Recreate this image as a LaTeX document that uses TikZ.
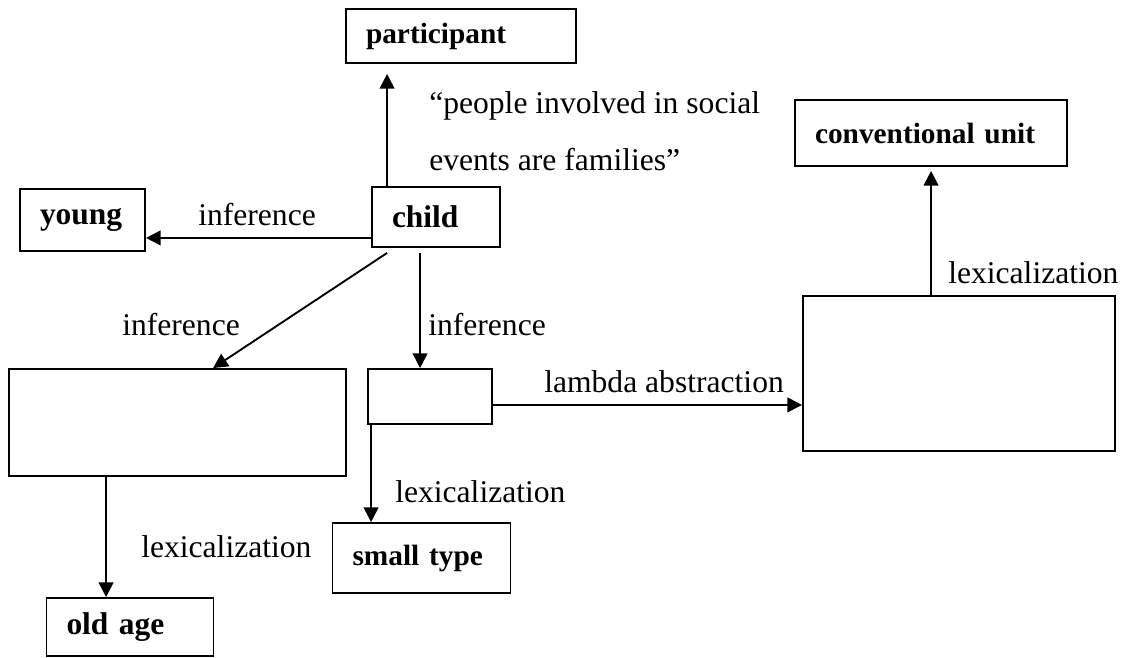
\documentclass[tikz,border=0pt]{standalone}
\usepackage{fontspec}
\setmainfont{Liberation Serif}
\usetikzlibrary{arrows.meta,calc}
\tikzset{
  px/.style={x=0.75pt,y=-0.75pt},
  lbl/.style={font=\fontsize{23.7pt}{28pt}\selectfont, inner sep=0pt, anchor=west},
  tbox/.style={draw, line width=1.4pt, font=\fontsize{22pt}{26pt}\selectfont\bfseries,
    inner xsep=15pt, inner ysep=0pt, align=left},
  bigb/.style={font=\fontsize{23.6pt}{28pt}\selectfont\bfseries},
  ebox/.style={draw, line width=1.4pt, inner sep=0pt},
  conn/.style={line width=1.4pt},
  arr/.style={conn, -{Triangle[length=11pt,width=11pt]}}
}
\begin{document}
\begin{tikzpicture}[px]
\useasboundingbox (0,0) rectangle (1124,657);
% boxes with text
\node[tbox, text width=142.5pt, minimum height=40.5pt] (participant) at (461,36) {participant};
\node[tbox, bigb, text width=63.75pt, minimum height=46.5pt] (young) at (82.5,220) {young};
\node[tbox, bigb, text width=66pt, minimum height=45pt] (child) at (436,217) {child};
\node[tbox, text width=174pt, minimum height=49.5pt] (conv) at (931,133) {conventional unit};
\node[tbox, text width=103.5pt, minimum height=52.5pt] (smalltype) at (421.5,558) {small type};
\node[tbox, bigb, text width=95.25pt, minimum height=43.5pt] (oldage) at (130,627) {old age};
% empty boxes
\node[ebox, minimum width=252.75pt, minimum height=80.25pt] (L) at (177.5,422.5) {};
\node[ebox, minimum width=93pt, minimum height=41.25pt] (S) at (430,396.5) {};
\node[ebox, minimum width=234pt, minimum height=116.25pt] (R) at (959,373.5) {};
% quote
\node[font=\fontsize{23.7pt}{42.75pt}\selectfont, inner sep=0pt, anchor=north west, align=left] (quote) at (429,91)
  {“people involved in social\\events are families”};
% labels
\node[lbl] (l1) at (198,215) {inference};
\node[lbl] (l2) at (122,325) {inference};
\node[lbl] (l3) at (428,325) {inference};
\node[lbl] (l4) at (544,382) {lambda abstraction};
\node[lbl] (l5) at (948,273) {lexicalization};
\node[lbl] (l6) at (395,492) {lexicalization};
\node[lbl] (l7) at (141,547) {lexicalization};
% connectors
\coordinate (c1) at ($(child.north west)+(16,0)$);
\draw[arr, shorten >=7.5pt] (c1) -- (c1 |- participant.south);
\coordinate (c2) at ($(child.south west)+(0,-10)$);
\draw[arr] (c2) -- (c2 -| young.east);
\coordinate (c3) at ($(child.south west)+(16,5)$);
\coordinate (c3e) at ($(L.north west)+(205,0)$);
\draw[arr] (c3) -- (c3e);
\coordinate (c4) at ($(child.south west)+(49,5)$);
\draw[arr] (c4) -- (c4 |- S.north);
\coordinate (c5) at ($(S.south east)+(0,-20)$);
\draw[arr] (c5) -- (c5 -| R.west);
\coordinate (c6) at ($(R.north west)+(129,0)$);
\draw[arr, shorten >=3pt] (c6) -- (c6 |- conv.south);
\coordinate (c7) at ($(S.south west)+(4,0)$);
\draw[arr] (c7) -- (c7 |- smalltype.north);
\coordinate (c8) at ($(L.south west)+(98,0)$);
\draw[arr] (c8) -- (c8 |- oldage.north);
\end{tikzpicture}
\end{document}
